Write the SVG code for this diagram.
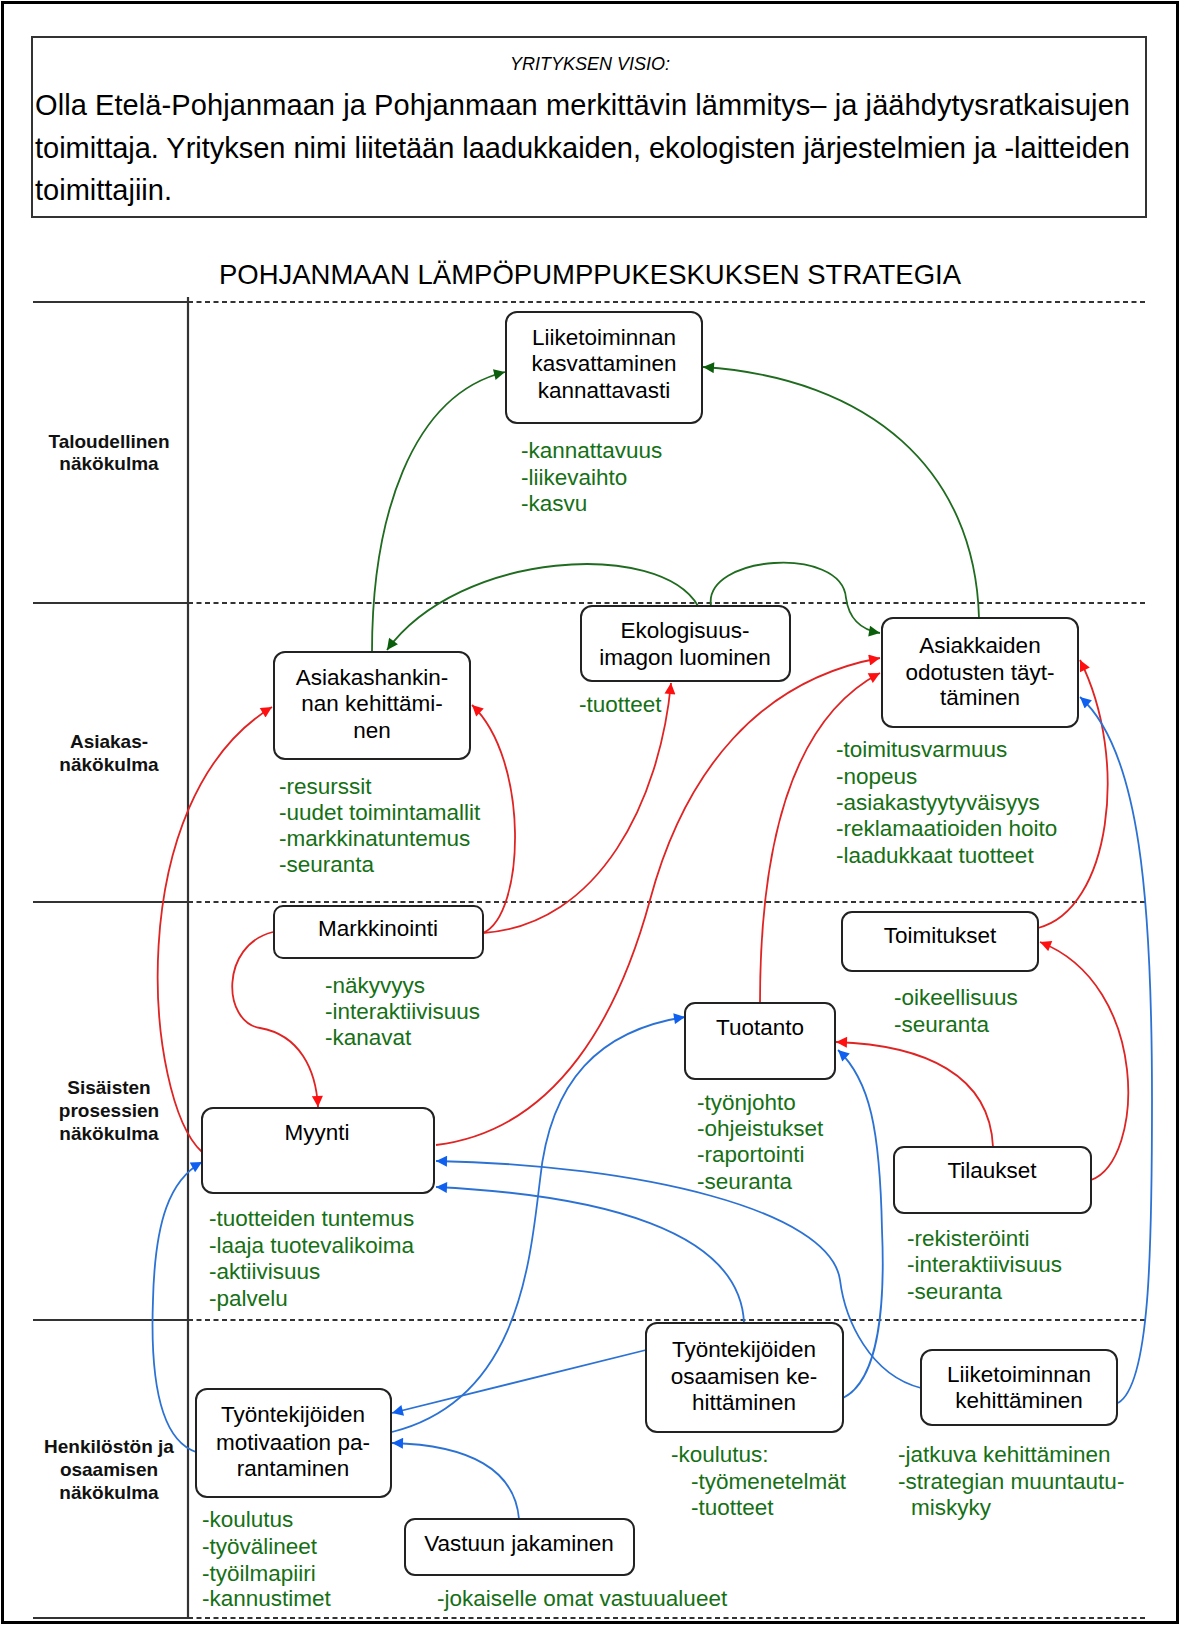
<svg xmlns="http://www.w3.org/2000/svg" width="1180" height="1625" viewBox="0 0 1180 1625">
<defs>
<style>
.frame{fill:none;stroke:#000;stroke-width:3}
.vbox{fill:#fff;stroke:#333;stroke-width:2}
.box{fill:#fff;stroke:#222;stroke-width:2}
.sol{stroke:#333;stroke-width:2.2}
.dash{stroke:#333;stroke-width:2.2;stroke-dasharray:5 3.5}
.t{font-family:"Liberation Sans",Arial,sans-serif;font-size:22.5px;fill:#000;text-anchor:middle}
.g{font-family:"Liberation Sans",Arial,sans-serif;font-size:22.5px;fill:#157015}
.side{font-family:"Liberation Sans",Arial,sans-serif;font-size:19px;font-weight:bold;fill:#111;text-anchor:middle}
.para{font-family:"Liberation Sans",Arial,sans-serif;font-size:29px;fill:#000}
.cg{fill:none;stroke:#1f6b1f;stroke-width:1.8}
.cr{fill:none;stroke:#e02424;stroke-width:1.8}
.cb{fill:none;stroke:#2c72d4;stroke-width:1.8}
</style>
<marker id="ag" viewBox="0 0 10 10" refX="10" refY="5" markerWidth="13" markerHeight="11" markerUnits="userSpaceOnUse" orient="auto"><path d="M0,0 L10,5 L0,10 z" fill="#0b5e0b"/></marker>
<marker id="ar" viewBox="0 0 10 10" refX="10" refY="5" markerWidth="13" markerHeight="11" markerUnits="userSpaceOnUse" orient="auto"><path d="M0,0 L10,5 L0,10 z" fill="#ff1010"/></marker>
<marker id="ab" viewBox="0 0 10 10" refX="10" refY="5" markerWidth="13" markerHeight="11" markerUnits="userSpaceOnUse" orient="auto"><path d="M0,0 L10,5 L0,10 z" fill="#1060f0"/></marker>
</defs>
<rect x="0" y="0" width="1180" height="1625" fill="#fff"/>
<rect class="frame" x="2.5" y="2.5" width="1175" height="1620"/>

<g id="vision">
<rect class="vbox" x="32" y="37" width="1114" height="180"/>
<text x="590" y="70" font-family="'Liberation Sans',Arial,sans-serif" font-size="18" font-style="italic" text-anchor="middle">YRITYKSEN  VISIO:</text>
<text class="para" x="35" y="115" textLength="1095" lengthAdjust="spacing">Olla Etelä-Pohjanmaan ja Pohjanmaan merkittävin lämmitys– ja jäähdytysratkaisujen</text>
<text class="para" x="35" y="158" textLength="1095" lengthAdjust="spacing">toimittaja. Yrityksen nimi liitetään laadukkaiden, ekologisten järjestelmien ja -laitteiden</text>
<text class="para" x="35" y="200">toimittajiin.</text>
</g>

<text id="title" x="590" y="284" font-family="'Liberation Sans',Arial,sans-serif" font-size="27.5" text-anchor="middle">POHJANMAAN LÄMPÖPUMPPUKESKUKSEN STRATEGIA</text>

<g id="grid">
<line class="sol" x1="33" y1="302" x2="188" y2="302"/>
<line class="dash" x1="188" y1="302" x2="1146" y2="302"/>
<line class="sol" x1="33" y1="603" x2="188" y2="603"/>
<line class="dash" x1="188" y1="603" x2="1146" y2="603"/>
<line class="sol" x1="33" y1="902" x2="188" y2="902"/>
<line class="dash" x1="188" y1="902" x2="1146" y2="902"/>
<line class="sol" x1="33" y1="1320" x2="188" y2="1320"/>
<line class="dash" x1="188" y1="1320" x2="1146" y2="1320"/>
<line class="sol" x1="33" y1="1618" x2="188" y2="1618"/>
<line class="dash" x1="188" y1="1618" x2="1146" y2="1618"/>
<line class="sol" x1="188" y1="297" x2="188" y2="1618"/>
</g>

<g id="perspectives">
<text class="side" x="109" y="448">Taloudellinen</text>
<text class="side" x="109" y="470">näkökulma</text>
<text class="side" x="109" y="748">Asiakas-</text>
<text class="side" x="109" y="771">näkökulma</text>
<text class="side" x="109" y="1094">Sisäisten</text>
<text class="side" x="109" y="1117">prosessien</text>
<text class="side" x="109" y="1140">näkökulma</text>
<text class="side" x="109" y="1453">Henkilöstön ja</text>
<text class="side" x="109" y="1476">osaamisen</text>
<text class="side" x="109" y="1499">näkökulma</text>
</g>

<g id="connectors">
<path class="cg" marker-end="url(#ag)" d="M372,652 C372,520 410,395 505,372"/>
<path class="cg" marker-end="url(#ag)" d="M979,618 C975,470 870,378 703,367"/>
<path class="cg" marker-end="url(#ag)" d="M698,606 C660,540 460,550 387,650"/>
<path class="cg" marker-end="url(#ag)" d="M711,606 C703,555 842,545 846,598 C849,620 862,630 880,633"/>

<path class="cr" marker-end="url(#ar)" d="M202,1152 C145,1100 120,800 272,707"/>
<path class="cr" marker-end="url(#ar)" d="M483,933 C525,915 530,760 472,705"/>
<path class="cr" marker-end="url(#ar)" d="M483,933 C600,925 660,800 671,683"/>
<path class="cr" marker-end="url(#ar)" d="M436,1145 C560,1130 620,1010 650,900 C685,770 760,680 880,658"/>
<path class="cr" marker-end="url(#ar)" d="M760,1003 C760,850 790,720 880,673"/>
<path class="cr" marker-end="url(#ar)" d="M1038,928 C1110,910 1130,760 1080,660"/>
<path class="cr" marker-end="url(#ar)" d="M993,1147 C990,1075 925,1045 836,1042"/>
<path class="cr" marker-end="url(#ar)" d="M1091,1180 C1145,1160 1150,985 1040,942"/>
<path class="cr" marker-end="url(#ar)" d="M273,932 C220,945 222,1022 260,1028 C300,1035 316,1070 318,1107"/>

<path class="cb" marker-end="url(#ab)" d="M1118,1403 C1150,1385 1152,1250 1152,1100 C1152,900 1140,750 1080,697"/>
<path class="cb" marker-end="url(#ab)" d="M921,1388 C870,1375 845,1320 840,1280 C830,1210 640,1165 436,1161"/>
<path class="cb" marker-end="url(#ab)" d="M744,1323 C740,1230 600,1195 436,1187"/>
<path class="cb" marker-end="url(#ab)" d="M646,1350 L392,1413"/>
<path class="cb" marker-end="url(#ab)" d="M392,1432 C520,1400 530,1260 540,1180 C550,1080 600,1030 685,1017"/>
<path class="cb" marker-end="url(#ab)" d="M843,1398 C880,1380 885,1300 882,1230 C880,1130 870,1080 838,1050"/>
<path class="cb" marker-end="url(#ab)" d="M519,1519 C515,1470 470,1445 392,1443"/>
<path class="cb" marker-end="url(#ab)" d="M196,1452 C160,1440 150,1380 153,1300 C155,1220 170,1180 202,1162"/>
</g>

<g id="n_kasvu">
<rect class="box" x="506" y="312" width="196" height="111" rx="11"/>
<text class="t" x="604" y="345">Liiketoiminnan</text>
<text class="t" x="604" y="371">kasvattaminen</text>
<text class="t" x="604" y="398">kannattavasti</text>
<text class="g" x="521" y="458">-kannattavuus</text>
<text class="g" x="521" y="485">-liikevaihto</text>
<text class="g" x="521" y="511">-kasvu</text>
</g>

<g id="n_asiakashankinta">
<rect class="box" x="274" y="652" width="196" height="107" rx="11"/>
<text class="t" x="372" y="685">Asiakashankin-</text>
<text class="t" x="372" y="711">nan kehittämi-</text>
<text class="t" x="372" y="738">nen</text>
<text class="g" x="279" y="794">-resurssit</text>
<text class="g" x="279" y="820">-uudet toimintamallit</text>
<text class="g" x="279" y="846">-markkinatuntemus</text>
<text class="g" x="279" y="872">-seuranta</text>
</g>

<g id="n_ekologisuus">
<rect class="box" x="581" y="606" width="209" height="75" rx="11"/>
<text class="t" x="685" y="638">Ekologisuus-</text>
<text class="t" x="685" y="665">imagon luominen</text>
<text class="g" x="579" y="712">-tuotteet</text>
</g>

<g id="n_asiakkaiden">
<rect class="box" x="882" y="618" width="196" height="109" rx="11"/>
<text class="t" x="980" y="653">Asiakkaiden</text>
<text class="t" x="980" y="680">odotusten täyt-</text>
<text class="t" x="980" y="705">täminen</text>
<text class="g" x="836" y="757">-toimitusvarmuus</text>
<text class="g" x="836" y="784">-nopeus</text>
<text class="g" x="836" y="810">-asiakastyytyväisyys</text>
<text class="g" x="836" y="836">-reklamaatioiden hoito</text>
<text class="g" x="836" y="863">-laadukkaat tuotteet</text>
</g>

<g id="n_markkinointi">
<rect class="box" x="274" y="906" width="209" height="52" rx="9"/>
<text class="t" x="378" y="936">Markkinointi</text>
<text class="g" x="325" y="993">-näkyvyys</text>
<text class="g" x="325" y="1019">-interaktiivisuus</text>
<text class="g" x="325" y="1045">-kanavat</text>
</g>

<g id="n_myynti">
<rect class="box" x="202" y="1108" width="232" height="85" rx="11"/>
<text class="t" x="317" y="1140">Myynti</text>
<text class="g" x="209" y="1226">-tuotteiden tuntemus</text>
<text class="g" x="209" y="1253">-laaja tuotevalikoima</text>
<text class="g" x="209" y="1279">-aktiivisuus</text>
<text class="g" x="209" y="1306">-palvelu</text>
</g>

<g id="n_toimitukset">
<rect class="box" x="842" y="912" width="196" height="59" rx="10"/>
<text class="t" x="940" y="943">Toimitukset</text>
<text class="g" x="894" y="1005">-oikeellisuus</text>
<text class="g" x="894" y="1032">-seuranta</text>
</g>

<g id="n_tuotanto">
<rect class="box" x="685" y="1003" width="150" height="76" rx="10"/>
<text class="t" x="760" y="1035">Tuotanto</text>
<text class="g" x="697" y="1110">-työnjohto</text>
<text class="g" x="697" y="1136">-ohjeistukset</text>
<text class="g" x="697" y="1162">-raportointi</text>
<text class="g" x="697" y="1189">-seuranta</text>
</g>

<g id="n_tilaukset">
<rect class="box" x="894" y="1147" width="197" height="66" rx="10"/>
<text class="t" x="992" y="1178">Tilaukset</text>
<text class="g" x="907" y="1246">-rekisteröinti</text>
<text class="g" x="907" y="1272">-interaktiivisuus</text>
<text class="g" x="907" y="1299">-seuranta</text>
</g>

<g id="n_osaaminen">
<rect class="box" x="646" y="1323" width="197" height="109" rx="11"/>
<text class="t" x="744" y="1357">Työntekijöiden</text>
<text class="t" x="744" y="1384">osaamisen ke-</text>
<text class="t" x="744" y="1410">hittäminen</text>
<text class="g" x="671" y="1462">-koulutus:</text>
<text class="g" x="691" y="1489">-työmenetelmät</text>
<text class="g" x="691" y="1515">-tuotteet</text>
</g>

<g id="n_liike_keh">
<rect class="box" x="921" y="1350" width="196" height="75" rx="11"/>
<text class="t" x="1019" y="1382">Liiketoiminnan</text>
<text class="t" x="1019" y="1408">kehittäminen</text>
<text class="g" x="898" y="1462">-jatkuva kehittäminen</text>
<text class="g" x="898" y="1489">-strategian muuntautu-</text>
<text class="g" x="911" y="1515">miskyky</text>
</g>

<g id="n_motivaatio">
<rect class="box" x="196" y="1389" width="195" height="108" rx="11"/>
<text class="t" x="293" y="1422">Työntekijöiden</text>
<text class="t" x="293" y="1450">motivaation pa-</text>
<text class="t" x="293" y="1476">rantaminen</text>
<text class="g" x="202" y="1527">-koulutus</text>
<text class="g" x="202" y="1554">-työvälineet</text>
<text class="g" x="202" y="1581">-työilmapiiri</text>
<text class="g" x="202" y="1606">-kannustimet</text>
</g>

<g id="n_vastuu">
<rect class="box" x="405" y="1519" width="229" height="56" rx="10"/>
<text class="t" x="519" y="1551">Vastuun jakaminen</text>
<text class="g" x="437" y="1606">-jokaiselle omat vastuualueet</text>
</g>
</svg>
